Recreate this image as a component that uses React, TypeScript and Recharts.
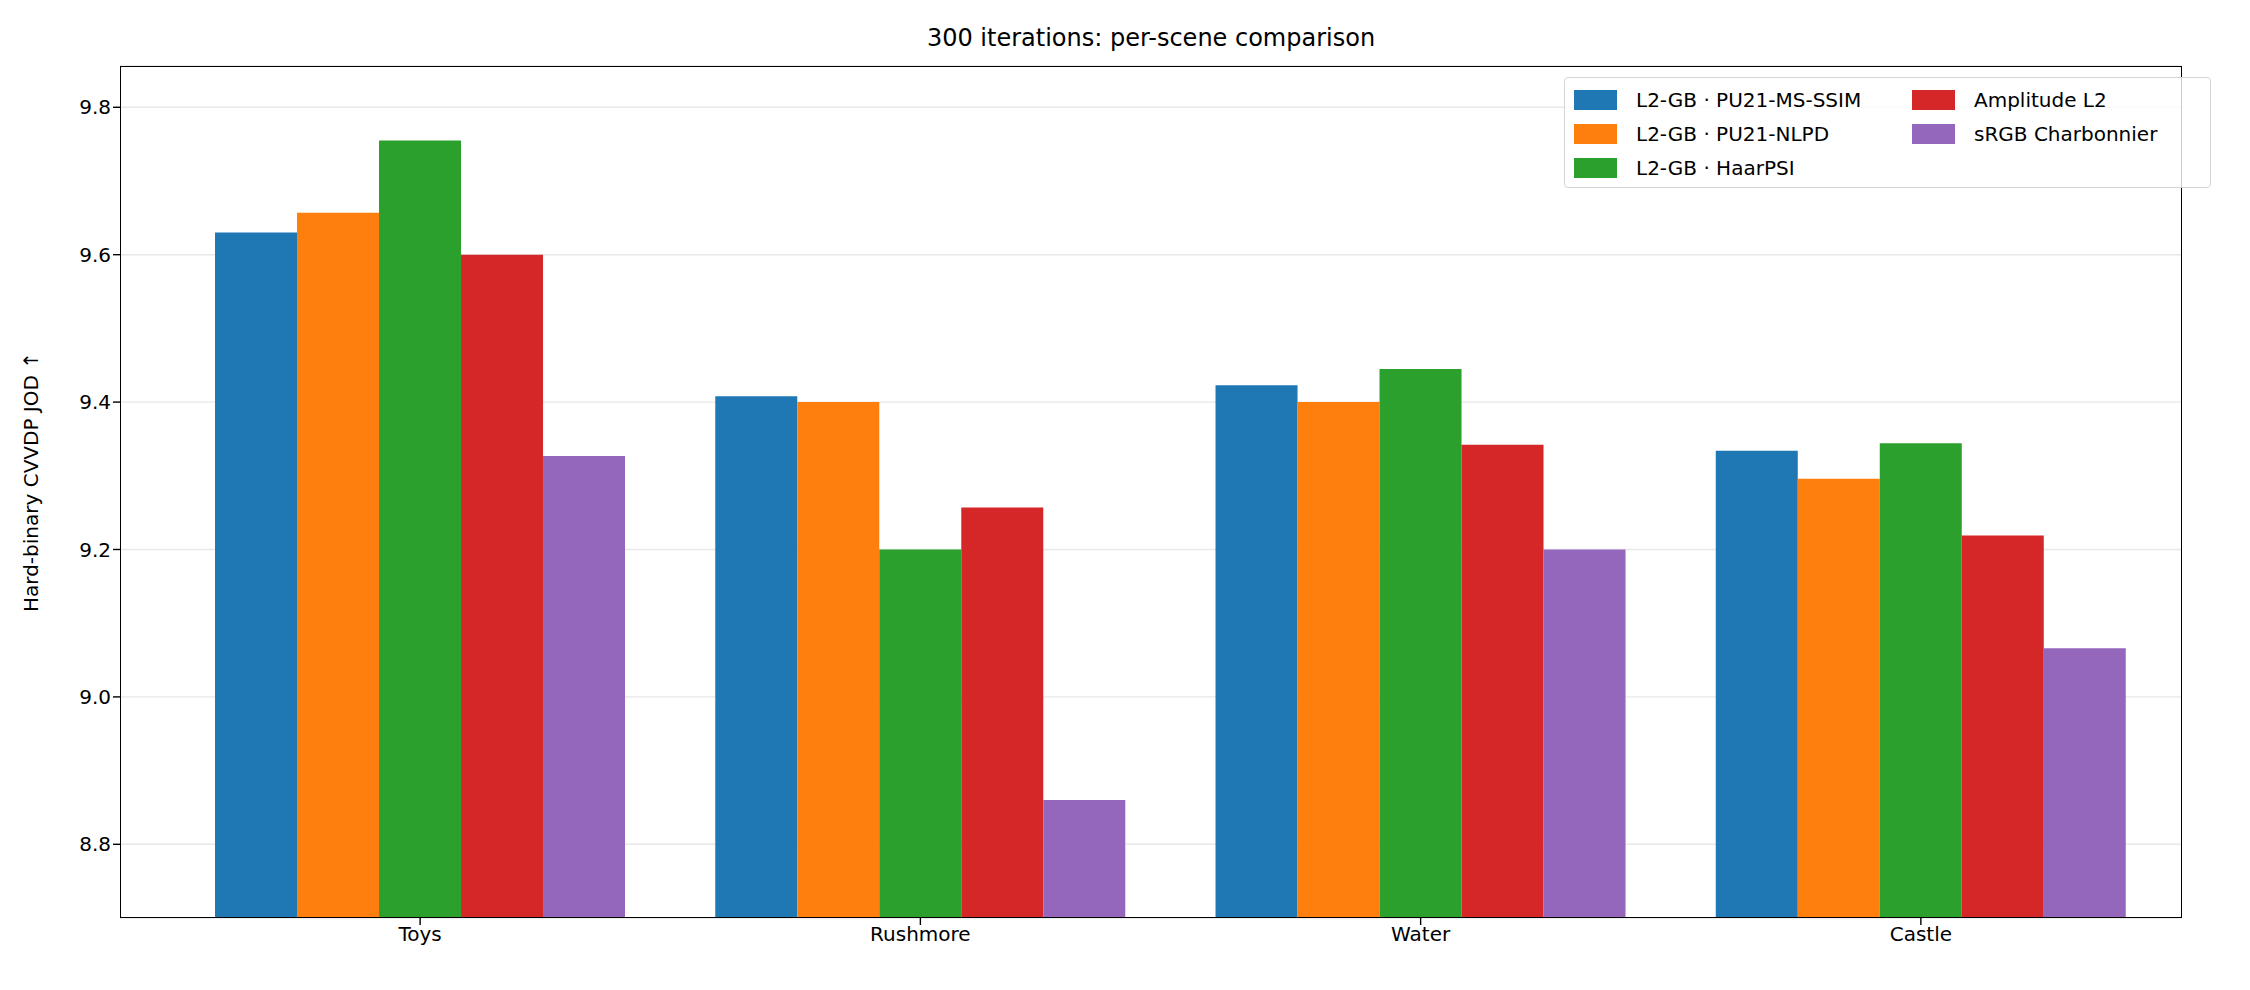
import React from "react";
import { BarChart, Bar, XAxis, YAxis, CartesianGrid } from "recharts";

const scenes = ["Toys", "Rushmore", "Water", "Castle"];
const seriesNames = ["L2-GB · PU21-MS-SSIM", "L2-GB · PU21-NLPD", "L2-GB · HaarPSI", "Amplitude L2", "sRGB Charbonnier"];
const colors = ["#1f77b4", "#ff7f0e", "#2ca02c", "#d62728", "#9467bd"];
const msssim = [9.63, 9.408, 9.423, 9.334];
const nlpd = [9.657, 9.4, 9.4, 9.296];
const haarpsi = [9.755, 9.2, 9.445, 9.344];
const amplitude = [9.6, 9.257, 9.342, 9.219];
const charbonnier = [9.327, 8.86, 9.2, 9.066];
const yTicks = [8.8, 9.0, 9.2, 9.4, 9.6, 9.8];

const seriesValues = [msssim, nlpd, haarpsi, amplitude, charbonnier];
const data = scenes.map((s, i) => {
  const row: any = { scene: s };
  seriesValues.forEach((v, k) => (row["s" + k] = v[i]));
  return row;
});

const font = "DejaVu Sans, sans-serif";
const L = 120, T = 66, R = 2182, B = 918;

export default function App() {
  return (
    <div style={{ position: "absolute", left: 0, top: 0, width: 2250, height: 990, background: "#fff", fontFamily: font }}>
      <div style={{ position: "absolute", left: L, width: R - L, top: 24, textAlign: "center", fontSize: 24, color: "#000" }}>
        300 iterations: per-scene comparison
      </div>
      <BarChart width={2250} height={990} data={data} margin={{ top: T, right: 2250 - R, left: 0, bottom: 0 }}
        barCategoryGap="9%" barGap={0}>
        <CartesianGrid horizontal vertical={false} stroke="#e8e8e8" strokeWidth={1.4} />
        <XAxis dataKey="scene" height={990 - B} padding={{ left: 50, right: 11 }} axisLine={false}
          tickLine={{ stroke: "#000", strokeWidth: 1.4 }} tickSize={7}
          tick={{ fontSize: 20, fill: "#000", fontFamily: font }} />
        <YAxis width={L} domain={[8.7, 9.856]} ticks={yTicks} allowDataOverflow axisLine={false}
          tickFormatter={(v: number) => v.toFixed(1)}
          tickLine={{ stroke: "#000", strokeWidth: 1.4 }} tickSize={7}
          tick={{ fontSize: 20, fill: "#000", fontFamily: font }}
          label={{ value: "Hard-binary CVVDP JOD ↑", angle: -90, position: "insideLeft", dx: 26, dy: 120, style: { fontSize: 20, fill: "#000", fontFamily: font } }} />
        {seriesNames.map((n, k) => (
          <Bar key={n} dataKey={"s" + k} name={n} fill={colors[k]} isAnimationActive={false} />
        ))}
      </BarChart>
      <div style={{ position: "absolute", left: L, top: T, width: R - L, height: B - T, border: "1.5px solid #000", boxSizing: "border-box", pointerEvents: "none" }} />
      <div style={{ position: "absolute", left: 1564, top: 77, width: 647, height: 111, border: "1.5px solid #d5d5d5", borderRadius: 4, boxSizing: "border-box", background: "rgba(255,255,255,0.8)" }}>
        {seriesNames.map((n, k) => {
          const col = k < 3 ? 0 : 1;
          const row = k < 3 ? k : k - 3;
          return (
            <div key={n} style={{ position: "absolute", left: col === 0 ? 9 : 347, top: 8 + row * 34, display: "flex", alignItems: "center", height: 28 }}>
              <div style={{ width: 43, height: 20, background: colors[k], marginRight: 19 }} />
              <span style={{ fontSize: 20, whiteSpace: "nowrap" }}>{n}</span>
            </div>
          );
        })}
      </div>
    </div>
  );
}
